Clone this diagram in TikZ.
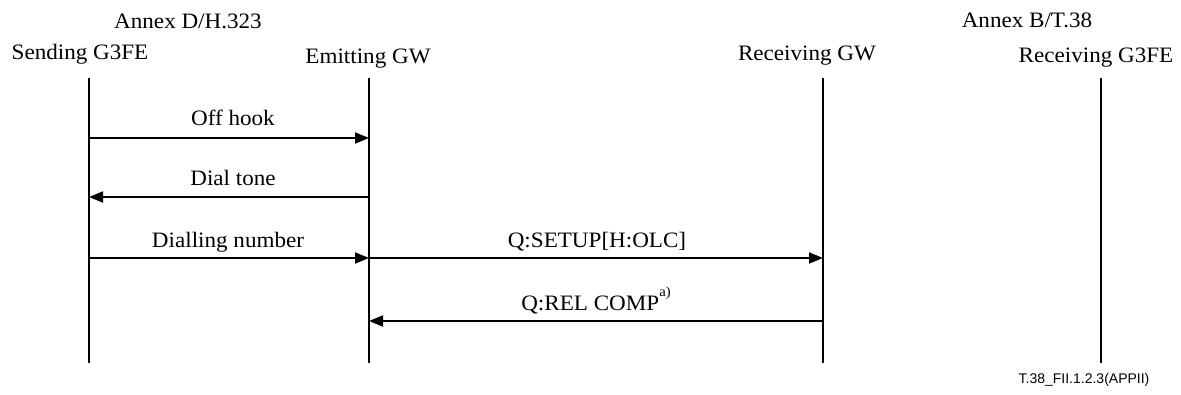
\documentclass[tikz,border=0pt]{standalone}
\usepackage{fontspec}
\setmainfont{Liberation Serif}[FakeStretch=1.05]
\newfontfamily\footfont{Liberation Sans}
\usetikzlibrary{arrows.meta}
\begin{document}
\begin{tikzpicture}[x=1pt,y=-1pt,
  lbl/.style={font=\fontsize{22}{24}\selectfont, anchor=base, inner sep=0pt},
  foot/.style={font=\footfont\fontsize{14}{16}\selectfont, anchor=base, inner sep=0pt},
  life/.style={line width=2.2pt},
  msg/.style={line width=1.8pt, -{Triangle[length=14pt,width=11pt]}}]
\useasboundingbox (0,0) rectangle (1181,394);
% headers
\node[lbl] (annexD) at (188,28) {Annex D/H.323};
\node[lbl] (annexB) at (1027,27) {Annex B/T.38};
\node[lbl] (hA) at (80,59) {Sending G3FE};
\node[lbl] (hB) at (368,63) {Emitting GW};
\node[lbl] (hC) at (807,60) {Receiving GW};
\node[lbl] (hD) at (1096,62) {Receiving G3FE};
% lifelines
\coordinate (aT) at (89,78);   \coordinate (aB) at (89,363);
\coordinate (bT) at (369,78);  \coordinate (bB) at (369,363);
\coordinate (cT) at (823,78);  \coordinate (cB) at (823,363);
\coordinate (dT) at (1101,78); \coordinate (dB) at (1101,363);
\draw[life] (aT) -- (aB);
\draw[life] (bT) -- (bB);
\draw[life] (cT) -- (cB);
\draw[life] (dT) -- (dB);
% message end points
\coordinate (a1) at (89,138);  \coordinate (b1) at (369,138);
\coordinate (a2) at (89,197);  \coordinate (b2) at (369,197);
\coordinate (a3) at (89,258);  \coordinate (b3) at (369,258); \coordinate (c3) at (823,258);
\coordinate (b4) at (369,321); \coordinate (c4) at (823,321);
\draw[msg] (a1) -- (b1);
\draw[msg] (b2) -- (a2);
\draw[msg] (a3) -- (b3);
\draw[msg] (b3) -- (c3);
\draw[msg] (c4) -- (b4);
% labels
\node[lbl] (l1) at (233,125) {Off hook};
\node[lbl] (l2) at (233,185) {Dial tone};
\node[lbl] (l3) at (228,247) {Dialling number};
\node[lbl] (l4) at (597,247) {Q:SETUP[H:OLC]};
\node[lbl] (l5) at (596,310) {Q:REL COMP\raisebox{0.62em}{\fontsize{14}{16}\selectfont a)}};
\node[foot] (fig) at (1084,383) {T.38\_FII.1.2.3(APPII)};
\end{tikzpicture}
\end{document}
